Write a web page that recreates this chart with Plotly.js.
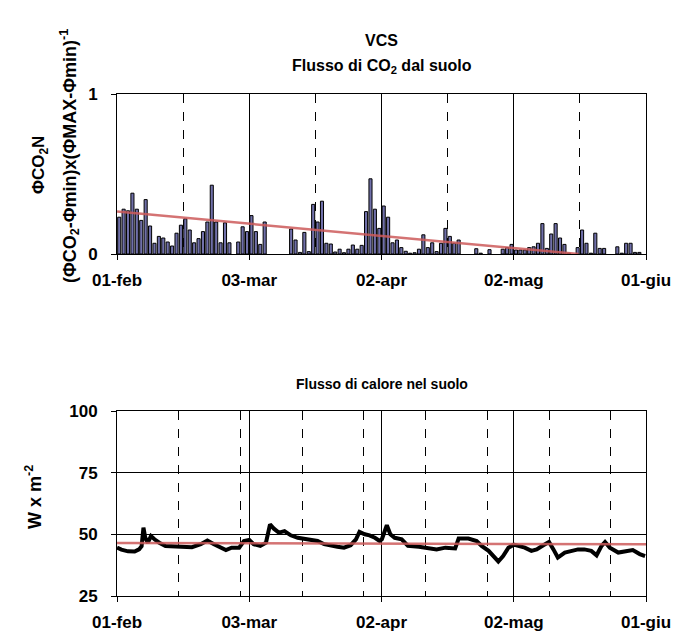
<!DOCTYPE html>
<html><head><meta charset="utf-8">
<script src="https://cdn.plot.ly/plotly-3.0.1.min.js"></script>
<style>html,body{margin:0;padding:0;background:#fff}</style>
</head><body><div id="chart" style="width:676px;height:633px"></div>
<script>
// ---- Top chart: normalised soil CO2 flux (daily bars) ----
const co2Dates = ['2010-02-01','2010-02-02','2010-02-03','2010-02-04','2010-02-05','2010-02-06','2010-02-07','2010-02-08','2010-02-09','2010-02-10',
  '2010-02-11','2010-02-12','2010-02-13','2010-02-14','2010-02-15','2010-02-16','2010-02-17','2010-02-18','2010-02-19','2010-02-20',
  '2010-02-21','2010-02-22','2010-02-23','2010-02-24','2010-02-25','2010-02-26','2010-02-28','2010-03-01','2010-03-02','2010-03-03',
  '2010-03-04','2010-03-05','2010-03-06','2010-03-12','2010-03-13','2010-03-14','2010-03-15','2010-03-16','2010-03-17','2010-03-18',
  '2010-03-19','2010-03-20','2010-03-21','2010-03-22','2010-03-23','2010-03-24','2010-03-25','2010-03-26','2010-03-27','2010-03-28',
  '2010-03-29','2010-03-30','2010-03-31','2010-04-01','2010-04-02','2010-04-03','2010-04-04','2010-04-05','2010-04-06','2010-04-07',
  '2010-04-08','2010-04-09','2010-04-10','2010-04-11','2010-04-12','2010-04-13','2010-04-14','2010-04-15','2010-04-16','2010-04-17',
  '2010-04-18','2010-04-19','2010-04-23','2010-04-24','2010-04-26','2010-04-29','2010-04-30','2010-05-01','2010-05-02','2010-05-03',
  '2010-05-04','2010-05-05','2010-05-06','2010-05-07','2010-05-08','2010-05-09','2010-05-10','2010-05-11','2010-05-12','2010-05-13',
  '2010-05-14','2010-05-16','2010-05-17','2010-05-18','2010-05-19','2010-05-20','2010-05-21','2010-05-22','2010-05-25','2010-05-26',
  '2010-05-27','2010-05-28','2010-05-29','2010-05-30'];
const co2Values = [0.23,0.28,0.27,0.38,0.28,0.21,0.34,0.175,0.067,0.11,
  0.10,0.075,0.05,0.13,0.18,0.22,0.15,0.07,0.096,0.14,
  0.20,0.43,0.20,0.07,0.195,0.07,0.075,0.17,0.14,0.24,
  0.14,0.06,0.20,0.156,0.0875,0.01,0.135,0.015,0.31,0.20,
  0.33,0.067,0.0625,0.0125,0.03,0.008,0.03,0.056,0.03,0.054,
  0.265,0.47,0.28,0.16,0.30,0.23,0.07,0.0875,0.04,0.017,
  0.005,0.008,0.03,0.12,0.04,0.07,0.015,0.067,0.16,0.11,
  0.067,0.0875,0.033,0.005,0.027,0.03,0.04,0.06,0.025,0.025,
  0.025,0.04,0.045,0.067,0.19,0.035,0.125,0.19,0.10,0.06,
  0.005,0.04,0.15,0.067,0.005,0.13,0.035,0.035,0.045,0.005,
  0.067,0.067,0.01,0.01];
const co2TrendDates = ['2010-02-01','2010-05-16 17:00'];
const co2TrendValues = [0.265, 0.0];

// ---- Bottom chart: soil heat flux ----
const heatDates = ['2010-02-01 00:00','2010-02-02 00:00','2010-02-03 12:00','2010-02-05 00:00','2010-02-06 00:00','2010-02-06 14:00',
  '2010-02-07 00:00','2010-02-07 10:00','2010-02-08 00:00','2010-02-08 17:00','2010-02-09 12:00','2010-02-10 14:00','2010-02-12 00:00',
  '2010-02-15 00:00','2010-02-18 00:00','2010-02-20 00:00','2010-02-21 12:00','2010-02-23 00:00','2010-02-24 12:00','2010-02-25 17:00',
  '2010-02-27 00:00','2010-02-28 17:00','2010-03-01 19:00','2010-03-03 00:00','2010-03-04 00:00','2010-03-05 12:00','2010-03-06 19:00',
  '2010-03-07 17:00','2010-03-08 14:00','2010-03-09 17:00','2010-03-11 00:00','2010-03-12 10:00','2010-03-14 00:00','2010-03-15 10:00',
  '2010-03-17 00:00','2010-03-18 12:00','2010-03-20 00:00','2010-03-21 12:00','2010-03-23 00:00','2010-03-24 12:00','2010-03-26 00:00',
  '2010-03-27 05:00','2010-03-28 00:00','2010-03-29 05:00','2010-03-30 07:00','2010-03-31 12:00','2010-04-01 14:00','2010-04-02 02:00',
  '2010-04-02 19:00','2010-04-03 05:00','2010-04-04 00:00','2010-04-05 00:00','2010-04-06 14:00','2010-04-08 00:00','2010-04-10 12:00',
  '2010-04-12 17:00','2010-04-14 12:00','2010-04-16 12:00','2010-04-18 17:00','2010-04-19 12:00','2010-04-21 17:00','2010-04-23 14:00',
  '2010-04-24 17:00','2010-04-26 07:00','2010-04-27 10:00','2010-04-28 12:00','2010-04-29 14:00','2010-04-30 19:00','2010-05-02 00:00',
  '2010-05-03 00:00','2010-05-04 12:00','2010-05-06 00:00','2010-05-07 05:00','2010-05-08 17:00','2010-05-10 00:00','2010-05-11 00:00',
  '2010-05-12 00:00','2010-05-13 14:00','2010-05-15 00:00','2010-05-16 14:00','2010-05-18 00:00','2010-05-19 14:00','2010-05-20 19:00',
  '2010-05-21 22:00','2010-05-22 17:00','2010-05-23 19:00','2010-05-25 17:00','2010-05-27 14:00','2010-05-29 00:00','2010-05-30 14:00',
  '2010-05-31 19:00'];
const heatValues = [44.6,43.8,43.1,43.0,43.9,45.2,
  52.7,48.6,46.6,49.3,48.0,46.6,45.3,
  45.0,44.8,46.0,47.5,46.0,44.6,43.6,
  44.6,44.6,47.3,47.7,46.0,45.3,46.6,
  54.0,52.3,50.7,51.3,49.6,48.6,48.3,
  47.7,47.3,46.0,45.3,45.0,44.6,45.6,
  48.0,51.0,50.0,49.6,48.6,47.3,48.0,
  52.0,53.7,50.0,48.6,48.0,45.3,45.0,
  44.6,43.9,44.6,44.3,48.3,48.3,47.3,
  45.3,43.3,41.2,39.0,41.2,44.6,45.8,
  45.3,44.6,43.3,43.9,45.6,46.9,43.9,
  40.6,42.6,43.3,43.9,43.9,43.3,41.5,
  45.3,46.9,44.6,42.6,43.3,43.6,42.0,
  41.2];
const heatMeanDates = ['2010-02-01','2010-06-01'];
const heatMeanValues = [46.5, 46.0];

// ---- Axis ticks ----
const xRange = ['2010-02-01','2010-06-01'];
const tickDates = ['2010-02-01','2010-03-03','2010-04-02','2010-05-02','2010-06-01'];
const tickLabels = ['01-feb','03-mar','02-apr','02-mag','01-giu'];
const topMinorDates = ['2010-02-16','2010-03-18','2010-04-17','2010-05-17'];
const bottomMinorDates = ['2010-02-15','2010-03-01','2010-03-15','2010-03-29','2010-04-12','2010-04-26','2010-05-10','2010-05-24'];

const FONT = 'Liberation Sans, Arial, sans-serif';
const tickFont = {family: FONT, size: 17, color: '#000', weight: 'bold'};

function xAxisCfg(anchor, minorVals) {
  return {
    anchor: anchor, type: 'date', range: xRange,
    tickmode: 'array', tickvals: tickDates, ticktext: tickLabels,
    tickfont: tickFont, ticks: 'outside', ticklen: 5, tickcolor: '#000',
    ticklabelstandoff: 6,
    showgrid: true, gridcolor: '#000', gridwidth: 1,
    showline: true, linecolor: '#000', linewidth: 1, mirror: true,
    minor: {tickmode: 'array', tickvals: minorVals, showgrid: true, gridcolor: '#000', griddash: 'dash', gridwidth: 1, ticks: ''},
    zeroline: false, fixedrange: true
  };
}

const traces = [
  {type: 'bar', x: co2Dates, y: co2Values, xaxis: 'x', yaxis: 'y',
   xperiod: 86400000, xperiodalignment: 'middle', width: 0.7 * 86400000,
   marker: {color: '#7070aa', line: {color: '#000', width: 1}}, hoverinfo: 'skip'},
  {type: 'scatter', mode: 'lines', x: co2TrendDates, y: co2TrendValues, xaxis: 'x', yaxis: 'y',
   line: {color: 'rgba(205,90,90,0.85)', width: 2.5}, hoverinfo: 'skip'},
  {type: 'scatter', mode: 'lines', x: heatDates, y: heatValues, xaxis: 'x2', yaxis: 'y2',
   line: {color: '#000', width: 4}, hoverinfo: 'skip'},
  {type: 'scatter', mode: 'lines', x: heatMeanDates, y: heatMeanValues, xaxis: 'x2', yaxis: 'y2',
   line: {color: 'rgba(205,90,90,0.85)', width: 2.5}, hoverinfo: 'skip'}
];

const plotTop = 94, plotBottom = 596, plotLeft = 117, plotRight = 646;
const H = plotBottom - plotTop, W = plotRight - plotLeft;
const py = p => (plotBottom - p) / H;
const px = p => (p - plotLeft) / W;

const layout = {
  width: 676, height: 633,
  margin: {l: plotLeft, r: 676 - plotRight, t: plotTop, b: 633 - plotBottom},
  paper_bgcolor: '#fff', plot_bgcolor: '#fff',
  showlegend: false, bargap: 0,
  font: {family: FONT, color: '#000'},
  xaxis: xAxisCfg('y', topMinorDates),
  yaxis: {domain: [py(254), 1], anchor: 'x', range: [0, 1], tickmode: 'array', tickvals: [0, 1],
          tickfont: tickFont, ticks: 'outside', ticklen: 5, tickcolor: '#000', ticklabelstandoff: 10,
          showgrid: false, showline: true, linecolor: '#000', mirror: true, zeroline: false, fixedrange: true},
  xaxis2: xAxisCfg('y2', bottomMinorDates),
  yaxis2: {domain: [0, py(411)], anchor: 'x2', range: [25, 100], tickmode: 'linear', tick0: 25, dtick: 25,
          tickfont: tickFont, ticks: 'outside', ticklen: 5, tickcolor: '#000', ticklabelstandoff: 10,
          showgrid: true, gridcolor: '#000', gridwidth: 1,
          showline: true, linecolor: '#000', mirror: true, zeroline: false, fixedrange: true},
  annotations: [
    {text: 'VCS', xref: 'paper', yref: 'paper', x: 0.5, y: py(40), showarrow: false, yanchor: 'middle',
     font: {family: FONT, size: 16, weight: 'bold'}},
    {text: 'Flusso di CO<sub>2</sub> dal suolo', xref: 'paper', yref: 'paper', x: 0.5, y: py(66), showarrow: false, yanchor: 'middle',
     font: {family: FONT, size: 16, weight: 'bold'}},
    {text: 'Flusso di calore nel suolo', xref: 'paper', yref: 'paper', x: 0.5, y: py(384), showarrow: false, yanchor: 'middle',
     font: {family: FONT, size: 14, weight: 'bold'}},
    {text: 'ΦCO<sub>2</sub>N', xref: 'paper', yref: 'paper', x: px(40), y: py(165), showarrow: false, textangle: -90,
     xanchor: 'center', yanchor: 'middle', font: {family: FONT, size: 17, weight: 'bold'}},
    {text: '(ΦCO<sub>2</sub>-Φmin)x(ΦMAX-Φmin)<sup>-1</sup>', xref: 'paper', yref: 'paper', x: px(69), y: py(156), showarrow: false, textangle: -90,
     xanchor: 'center', yanchor: 'middle', font: {family: FONT, size: 18, weight: 'bold'}},
    {text: 'W x m<sup>-2</sup>', xref: 'paper', yref: 'paper', x: px(33), y: py(497), showarrow: false, textangle: -90,
     xanchor: 'center', yanchor: 'middle', font: {family: FONT, size: 18, weight: 'bold'}}
  ]
};

Plotly.newPlot('chart', traces, layout, {displayModeBar: false, staticPlot: true});
</script>
</body></html>
